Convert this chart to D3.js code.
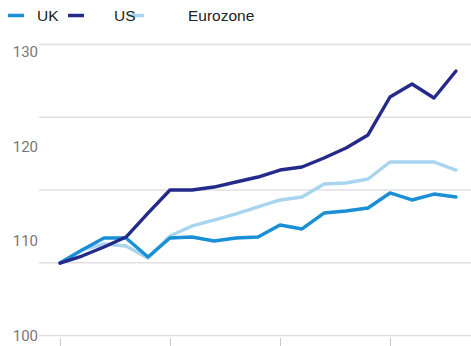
<!DOCTYPE html>
<html><head><meta charset="utf-8">
<script src="https://cdn.jsdelivr.net/npm/d3@7"></script>
<style>html,body{margin:0;padding:0;background:#fff;}svg{display:block;}</style>
</head><body>
<script>
const periods = d3.range(19);
const tickPeriods = [0, 5, 10, 15];
const ukValues = [107.67,109.05,110.32,110.32,108.31,110.32,110.42,110.0,110.32,110.42,111.69,111.27,112.96,113.17,113.49,115.08,114.34,114.97,114.66];
const usValues = [107.67,108.41,109.37,110.42,112.96,115.4,115.4,115.71,116.24,116.77,117.51,117.83,118.78,119.84,121.22,125.24,126.61,125.13,127.99];
const euroValues = [107.67,109.05,109.68,109.47,108.2,110.53,111.59,112.22,112.86,113.6,114.34,114.66,116.03,116.14,116.56,118.36,118.36,118.36,117.51];
const yTickLabels = [100, 110, 120, 130];
const gridValues = [100, 107.7, 115.4, 123.1, 130.8];
const seriesNames = ["UK", "US", "Eurozone"];
const seriesColors = ["#1a8fd6", "#232a8a", "#a9d4f0"];

const W = 471, H = 346;
const svg = d3.select("body").append("svg").attr("width", W).attr("height", H);
const x = d3.scaleLinear().domain([0, 18]).range([60, 456]);
const y = d3.scaleLinear().domain([100, 130]).range([335.5, 52]);

// gridlines
svg.append("g").selectAll("line").data(gridValues).join("line")
  .attr("x1", 39).attr("x2", W)
  .attr("y1", d => y(d)).attr("y2", d => y(d))
  .attr("stroke", "#e0e0e0").attr("stroke-width", 1.5);

// y labels
svg.append("g").selectAll("text").data(yTickLabels).join("text")
  .attr("x", 38).attr("y", d => y(d)).attr("dy", "0.36em")
  .attr("text-anchor", "end")
  .attr("font-family", "Roboto, 'Liberation Sans', sans-serif")
  .attr("font-size", 15).attr("fill", "#777")
  .text(d => d);

// x ticks
const xAxis = d3.axisBottom(x).tickValues(tickPeriods).tickSize(8).tickFormat("");
const gx = svg.append("g").attr("transform", "translate(0,338)").call(xAxis);
gx.select(".domain").remove();
gx.selectAll(".tick line").attr("stroke", "#c8c8c8").attr("stroke-width", 1);

const line = d3.line().x((d, i) => x(periods[i])).y(d => y(d));
const data = [ukValues, usValues, euroValues];
// draw order: Eurozone, UK, US
[2, 0, 1].forEach(k => {
  svg.append("path").datum(data[k]).attr("d", line)
    .attr("fill", "none").attr("stroke", seriesColors[k])
    .attr("stroke-width", 3.4).attr("stroke-linejoin", "round").attr("stroke-linecap", "round");
});

// legend
const legSwatchX = [8, 68, 128];
const legTextX = [37, 114, 188];
const leg = svg.append("g");
seriesNames.forEach((n, i) => {
  leg.append("line").attr("x1", legSwatchX[i]).attr("x2", legSwatchX[i] + 16)
    .attr("y1", 15.5).attr("y2", 15.5).attr("stroke", seriesColors[i]).attr("stroke-width", 3.5);
});
seriesNames.forEach((n, i) => {
  leg.append("text").attr("x", legTextX[i]).attr("y", 15.5).attr("dy", "0.36em")
    .attr("font-family", "'Liberation Sans', Arial, sans-serif").attr("font-size", 15.5)
    .attr("fill", "#222").text(n);
});
</script>
</body></html>
